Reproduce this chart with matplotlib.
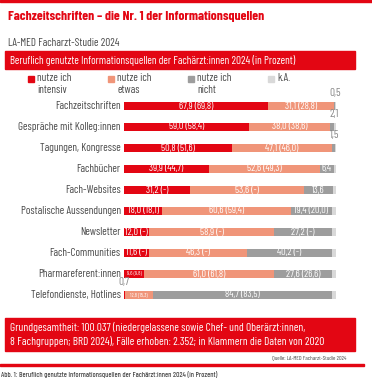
import numpy as np
import matplotlib
matplotlib.use("Agg")
import matplotlib.pyplot as plt
from matplotlib.patches import Rectangle

# Daten
categories = ["Fachzeitschriften", "Gespräche mit Kolleg:innen", "Tagungen, Kongresse",
              "Fachbücher", "Fach-Websites", "Postalische Aussendungen", "Newsletter",
              "Fach-Communities", "Pharmareferent:innen", "Telefondienste, Hotlines"]
intensiv = [67.9, 59.0, 50.8, 39.9, 31.2, 18.0, 12.0, 11.6, 9.6, 0.7]
etwas = [31.1, 38.0, 47.1, 52.6, 53.6, 60.6, 58.9, 46.3, 61.0, 12.8]
nicht = [0.5, 2.1, 1.5, 6.4, 13.6, 19.4, 27.2, 40.2, 27.6, 84.7]
ka = [0.5, 0.9, 0.6, 1.1, 1.6, 2.0, 1.9, 1.9, 1.8, 1.8]
intensiv_2020 = ["69,8", "58,4", "51,6", "44,7", "-", "18,1", "-", "-", "9,8", None]
etwas_2020 = ["28,8", "38,6", "46,0", "49,3", "-", "59,4", "-", "-", "61,8", "15,3"]
nicht_2020 = [None, None, None, None, None, "20,0", "-", "-", "26,6", "83,5"]
legend_labels = ["nutze ich\nintensiv", "nutze ich\netwas", "nutze ich\nnicht", "k.A."]

RED = "#e30613"
SALMON = "#f09579"
GREY = "#9d9d9d"
LIGHT = "#d9d9d9"
TXT = "#4a4a4a"
colors = [RED, SALMON, GREY, LIGHT]

plt.rcParams["font.family"] = ["Barlow Condensed", "DejaVu Sans"]
FS = 8          # Beschriftungen
FS_BAR = 7.3    # Werte in den Balken

W, H = 372, 388
fig = plt.figure(figsize=(W / 100, H / 100), dpi=100)


def fx(px):
    return px / W


def fy(py):
    return 1 - py / H


# Kopf
fig.patches.append(Rectangle((0, fy(2)), 1, 2 / H, transform=fig.transFigure, color=RED))
fig.text(fx(8), fy(16), "Fachzeitschriften – die Nr. 1 der Informationsquellen", color=RED,
         fontsize=9.8, fontweight="bold", va="center", ha="left")
fig.text(fx(8), fy(43), "LA-MED Facharzt-Studie 2024", color=TXT, fontsize=FS, va="center")
fig.patches.append(Rectangle((fx(5), fy(69)), fx(350), 18 / H, transform=fig.transFigure, color=RED))
fig.text(fx(10), fy(60), "Beruflich genutzte Informationsquellen der Fachärzt:innen 2024 (in Prozent)",
         color="white", fontsize=FS, va="center")

# Legende
leg_x = [28, 108, 188, 268]
for x, lab, c in zip(leg_x, legend_labels, colors):
    fig.patches.append(Rectangle((fx(x), fy(82)), fx(6), 6 / H, transform=fig.transFigure, color=c))
    fig.text(fx(x + 9), fy(73), lab, color=TXT, fontsize=FS, va="top", linespacing=1.25)

# Balken
ax = fig.add_axes([fx(124), fy(305.5), fx(212), 210 / H])
y = np.arange(len(categories))
left = np.zeros(len(categories))
for vals, c in zip([intensiv, etwas, nicht, ka], colors):
    ax.barh(y, vals, left=left, height=0.38, color=c, linewidth=0)
    left += np.array(vals)
ax.set_xlim(0, 100)
ax.set_ylim(len(categories) - 0.5, -0.5)
ax.axis("off")

for i, cat in enumerate(categories):
    ax.text(-1.5, i, cat, ha="right", va="center", color=TXT, fontsize=FS)
    # intensiv
    v = intensiv[i]
    if v > 5:
        lab = f"{v:.1f}".replace(".", ",")
        if intensiv_2020[i]:
            lab += f" ({intensiv_2020[i]})"
        fs = FS_BAR if v > 11 else 4
        ax.text(v / 2, i, lab, ha="center", va="center", color="white", fontsize=fs)
    else:
        ax.text(0, i - 0.62, f"{v:.1f}".replace(".", ","), ha="center", va="center",
                color="#888888", fontsize=FS)
    # etwas
    e = etwas[i]
    lab = f"{e:.1f}".replace(".", ",")
    if etwas_2020[i]:
        lab += f" ({etwas_2020[i]})"
    fs = FS_BAR if e > 20 else 4
    ax.text(intensiv[i] + e / 2, i, lab, ha="center", va="center", color="white", fontsize=fs)
    # nicht
    n = nicht[i]
    start = intensiv[i] + e
    lab = f"{n:.1f}".replace(".", ",")
    if n > 5:
        if nicht_2020[i]:
            lab += f" ({nicht_2020[i]})"
        ax.text(start + n / 2, i, lab, ha="center", va="center", color="white", fontsize=FS_BAR)
    else:
        ax.text(start + n, i - 0.62, lab, ha="center", va="center", color="#888888", fontsize=FS)

# Fuss
fig.patches.append(Rectangle((fx(5), fy(351)), fx(350), 33 / H, transform=fig.transFigure, color=RED))
fig.text(fx(10), fy(334.5), "Grundgesamtheit: 100.037 (niedergelassene sowie Chef- und Oberärzt:innen,\n"
         "8 Fachgruppen; BRD 2024), Fälle erhoben: 2.352; in Klammern die Daten von 2020",
         color="white", fontsize=8.2, va="center", linespacing=1.3)
fig.text(fx(346), fy(358), "Quelle: LA-MED Facharzt-Studie 2024", color=TXT, fontsize=4.3,
         ha="right", va="center")
fig.patches.append(Rectangle((0, fy(366)), fx(364), 2 / H, transform=fig.transFigure, color=RED))
fig.text(fx(1), fy(375), "Abb. 1: Beruflich genutzte Informationsquellen der Fachärzt:innen 2024 (in Prozent)",
         color=TXT, fontsize=5.4, fontweight="medium", va="center")

fig.savefig("out.png", dpi=100)
